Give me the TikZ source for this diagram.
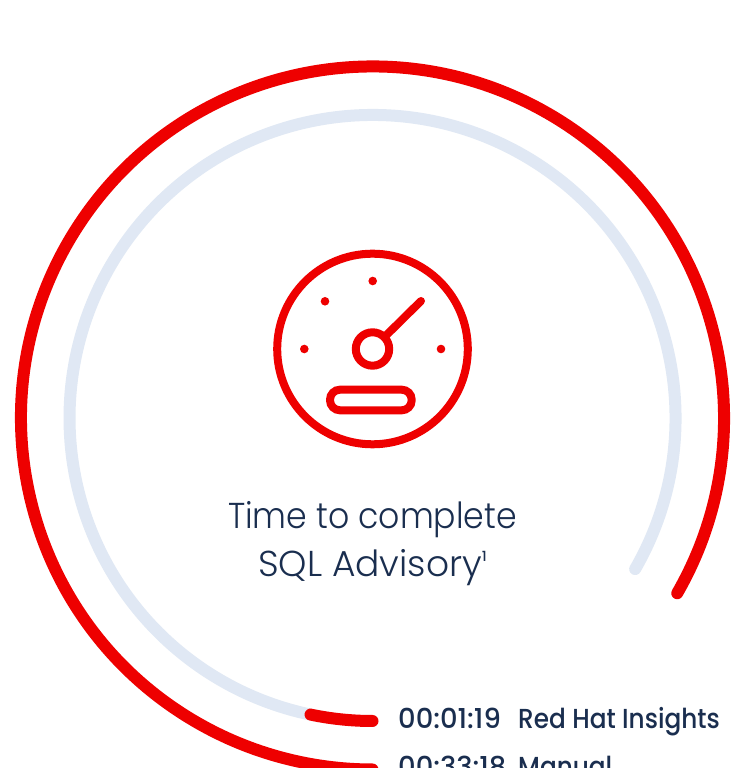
\documentclass[tikz,border=0pt]{standalone}
\usepackage{fontspec}
\setmainfont{Poppins}
\newfontfamily\lightfont{Poppins Light}
\newfontfamily\lightnarrow[FakeStretch=0.92]{Poppins Light}
\newfontfamily\medfont{Poppins Medium}
\newfontfamily\mednarrow[FakeStretch=0.90]{Poppins Medium}
\definecolor{rhred}{HTML}{EE0000}
\definecolor{rhpale}{HTML}{E0E8F4}
\definecolor{rhnavy}{HTML}{1A2E4F}
\tikzset{
  ring/.style={line width=12pt,line cap=round},
  icon/.style={draw=rhred,line width=8pt,line cap=round},
  tick/.style={circle,fill=rhred,inner sep=0pt,minimum size=8.6pt},
  title/.style={text=rhnavy,anchor=base,inner sep=0pt},
  metric/.style={text=rhnavy,anchor=base west,inner sep=0pt,font=\medfont\fontsize{27.4}{27.4}\selectfont},
  source/.style={text=rhnavy,anchor=base west,inner sep=0pt,font=\mednarrow\fontsize{27.5}{27.5}\selectfont}
}
\begin{document}
\begin{tikzpicture}[x=1pt,y=1pt]
\useasboundingbox (0,0) rectangle (733,768);
\clip (0,0) rectangle (733,768);
\fill[white] (0,0) rectangle (733,768);
\coordinate (c) at (372.5,350);
% rings
\draw[ring,rhred] ([shift={(-29.9:351.5)}]c) arc[start angle=-29.9,end angle=270,radius=351.5];
\draw[ring,rhpale] ([shift={(-29.9:303)}]c) arc[start angle=-29.9,end angle=258,radius=303];
\draw[ring,rhred] ([shift={(258.2:303)}]c) arc[start angle=258.2,end angle=270,radius=303];
% gauge icon
\coordinate (g) at (372.5,419);
\draw[icon] (g) circle[radius=95.3];
\draw[icon] (g) circle[radius=16.7];
\coordinate (needleA) at (384.3,430.8);
\coordinate (needleB) at (421,467);
\draw[icon] (needleA) -- (needleB);
\node[tick] (t1) at (372.7,487) {};
\node[tick] (t2) at (325,466.7) {};
\node[tick] (t3) at (304.3,419) {};
\node[tick] (t4) at (441,419) {};
\draw[icon,rounded corners=10pt] (330,357.7) rectangle (411.7,378.3);
% texts
\node[title,font=\lightnarrow\fontsize{36}{36}\selectfont] (l1) at (372.5,239.5) {Time to complete};
\node[title,font=\lightfont\fontsize{36}{36}\selectfont] (l2) at (372.5,191.5) {SQL Advisory\raisebox{0.42em}{\medfont\fontsize{14}{14}\selectfont 1}};
\node[metric] (m1) at (398,39) {00:01:19};
\node[source] (n1) at (518,39) {Red Hat Insights};
\node[metric] (m2) at (398,-9) {00:33:18};
\node[source] (n2) at (518,-9) {Manual};
\end{tikzpicture}
\end{document}
